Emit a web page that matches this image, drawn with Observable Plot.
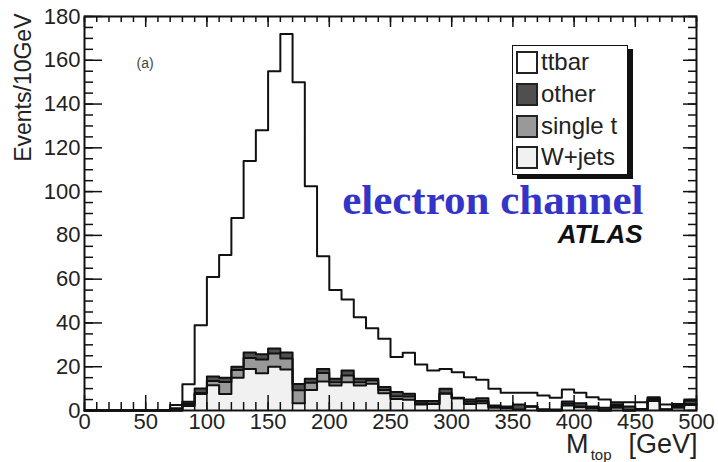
<!DOCTYPE html>
<html>
<head>
<meta charset="utf-8">
<script src="https://cdn.jsdelivr.net/npm/d3@7"></script>
<script src="https://cdn.jsdelivr.net/npm/@observablehq/plot@0.6"></script>
<style>
  body { margin: 0; background: #fff; }
  #chart { position: relative; width: 718px; height: 462px; font-family: "Liberation Sans", Arial, sans-serif; }
  #chart svg { position: absolute; left: 0; top: 0; }
  #legend { position: absolute; left: 512px; top: 45px; width: 114px; height: 128px;
            border: 1.5px solid #111; background: #fff; box-shadow: 5px 4px 0 #111; }
  .entry { position: absolute; left: 3px; height: 24px; display: flex; align-items: center;
           font-size: 24px; color: #222; white-space: nowrap; }
  .sw { width: 18px; height: 19px; border: 2px solid #222; margin-right: 3px; flex: none; }
</style>
</head>
<body>
<div id="chart"></div>
<script>
// Reconstructed top-quark mass, electron channel: events per 10 GeV bin.
// Bin lower edges (GeV)
const binLow = [0, 10, 20, 30, 40, 50, 60, 70, 80, 90,
  100, 110, 120, 130, 140, 150, 160, 170, 180, 190,
  200, 210, 220, 230, 240, 250, 260, 270, 280, 290,
  300, 310, 320, 330, 340, 350, 360, 370, 380, 390,
  400, 410, 420, 430, 440, 450, 460, 470, 480, 490];
const binWidth = 10;

// Stacked contributions, bottom to top
const wjets = [0, 0, 0, 0, 0, 0, 0, 0, 2, 7.5,
  11.5, 7.5, 15, 19, 17, 20, 18.7, 3.3, 9.4, 13.2,
  11.4, 12.9, 11.4, 12.2, 7.9, 5.3, 4.9, 2.7, 3, 7.6,
  5.6, 3, 3.3, 1.2, 1, 0.2, 1.8, 0, 0, 2.3,
  1.5, 0.9, 0, 1.2, 0, 0.3, 4.3, 0.3, 1.2, 2.5];
const singleTop = [0, 0, 0, 0, 0, 0, 0, 0, 1, 0.5,
  2, 5.5, 3.5, 5, 6.3, 6, 5, 6, 3.3, 3.9,
  1.5, 3.1, 1.5, 1.5, 1.5, 1.2, 1.5, 0.6, 0, 0.3,
  0, 1, 1, 0.5, 0.3, 0.2, 0, 0, 0, 0.8,
  0.3, 0.2, 0, 0.8, 0, 0, 0.5, 0, 0.8, 0.5];
const other = [0, 0, 0, 0, 0, 0, 0, 1, 1, 2,
  2, 2, 1.5, 2.5, 2.4, 2.3, 2.8, 2.8, 1.8, 1.9,
  1.6, 2.3, 1.6, 0.8, 1.3, 1.9, 1.2, 1, 1.3, 2,
  0.2, 1, 1.3, 0.6, 0.5, 2.3, 0, 0.6, 0.5, 1,
  1.5, 0.7, 1.2, 0.8, 1.8, 0.4, 0.5, 0.3, 0.7, 1.5];
const ttbar = [0, 0, 0, 0, 0, 0, 0, 1.5, 8, 29,
  45.5, 56, 68, 87.5, 102.3, 126.7, 145.5, 137.9, 88, 51.5,
  40.5, 32.4, 28.1, 23.1, 22.1, 16, 18.8, 16.7, 14, 9.1,
  11.7, 10.2, 8.4, 7.6, 6.3, 5.4, 6.3, 6.3, 5.3, 5.5,
  4.8, 4.3, 3.8, 1.0, 2, 3.1, 0.8, 2.1, 0.3, 0.5];

const seriesNames = ["W+jets", "single t", "other", "ttbar"];
const seriesValues = [wjets, singleTop, other, ttbar];
const seriesFills = ["#f1f1f1", "#999999", "#4f4f4f", "#ffffff"];
const legendOrder = ["ttbar", "other", "single t", "W+jets"];

// Axis ticks
const xMajor = [0, 50, 100, 150, 200, 250, 300, 350, 400, 450, 500];
const xMinor = d3.range(0, 501, 10);
const yMajor = [0, 20, 40, 60, 80, 100, 120, 140, 160, 180];
const yMinor = d3.range(0, 181, 5);

// Long-format rows; each series repeats its last bin at the upper edge so the step closes at 500
const rows = [];
seriesNames.forEach((name, s) => {
  const vals = seriesValues[s];
  binLow.forEach((x, i) => rows.push({x, series: name, value: vals[i]}));
  rows.push({x: binLow[binLow.length - 1] + binWidth, series: name, value: vals[vals.length - 1]});
});

const ink = "#111";
const labelInk = "#222";

const plot = Plot.plot({
  width: 718,
  height: 462,
  marginLeft: 84,
  marginRight: 22,
  marginTop: 16,
  marginBottom: 52,
  style: {fontFamily: "Liberation Sans, Arial, sans-serif", fontSize: "22px", background: "#fff"},
  x: {domain: [0, 500]},
  y: {domain: [0, 180]},
  color: {domain: seriesNames, range: seriesFills},
  marks: [
    Plot.areaY(rows, {x: "x", y: "value", z: "series", fill: "series", order: seriesNames, curve: "step-after"}),
    Plot.lineY(rows, Plot.stackY2({x: "x", y: "value", z: "series", order: seriesNames, curve: "step-after",
      stroke: ink, strokeWidth: 2})),

    // inward ticks on all four sides
    Plot.axisX({anchor: "bottom", ticks: xMinor, tickSize: -8, tickFormat: () => "", label: null, stroke: ink, strokeWidth: 1.5}),
    Plot.axisX({anchor: "bottom", ticks: xMajor, tickSize: -15, tickFormat: () => "", label: null, stroke: ink, strokeWidth: 1.5}),
    Plot.axisX({anchor: "top", ticks: xMinor, tickSize: -5, tickFormat: () => "", label: null, stroke: ink, strokeWidth: 1.5}),
    Plot.axisX({anchor: "top", ticks: xMajor, tickSize: -10, tickFormat: () => "", label: null, stroke: ink, strokeWidth: 1.5}),
    Plot.axisY({anchor: "left", ticks: yMinor, tickSize: -9, tickFormat: () => "", label: null, stroke: ink, strokeWidth: 1.5}),
    Plot.axisY({anchor: "left", ticks: yMajor, tickSize: -18, tickFormat: () => "", label: null, stroke: ink, strokeWidth: 1.5}),
    Plot.axisY({anchor: "right", ticks: yMinor, tickSize: -9, tickFormat: () => "", label: null, stroke: ink, strokeWidth: 1.5}),
    Plot.axisY({anchor: "right", ticks: yMajor, tickSize: -14, tickFormat: () => "", label: null, stroke: ink, strokeWidth: 1.5}),

    // tick labels
    Plot.axisX({anchor: "bottom", ticks: xMajor, tickSize: 0, tickPadding: 3, label: null, fill: labelInk, fontSize: 22}),
    Plot.axisY({anchor: "left", ticks: yMajor, tickSize: 0, tickPadding: 4, label: null, fill: labelInk, fontSize: 22}),

    Plot.frame({stroke: ink, strokeWidth: 2}),

    // axis titles
    Plot.text(["Events/10GeV"], {frameAnchor: "top-left", rotate: -90, textAnchor: "end", lineAnchor: "bottom",
      dx: -54, dy: -3, fontSize: 23, fill: labelInk}),
    Plot.text(["[GeV]"], {frameAnchor: "bottom-right", textAnchor: "end", lineAnchor: "bottom",
      dx: 1, dy: 42, fontSize: 27, fill: labelInk}),
    Plot.text(["top"], {frameAnchor: "bottom-right", textAnchor: "end", lineAnchor: "bottom",
      dx: -85, dy: 49, fontSize: 15, fill: labelInk}),
    Plot.text(["M"], {frameAnchor: "bottom-right", textAnchor: "end", lineAnchor: "bottom",
      dx: -108, dy: 42, fontSize: 27, fill: labelInk}),

    // annotations
    Plot.text(["(a)"], {frameAnchor: "top-left", dx: 52, dy: 42, fontSize: 14, fill: "#444"}),
    Plot.text(["electron channel"], {frameAnchor: "top-right", textAnchor: "end", lineAnchor: "bottom",
      dx: -53, dy: 197, fontFamily: "Liberation Serif, Times New Roman, serif", fontWeight: "bold",
      fontSize: 43, fill: "#3434c8"}),
    Plot.text(["ATLAS"], {frameAnchor: "top-right", textAnchor: "end", lineAnchor: "bottom",
      dx: -54, dy: 226, fontWeight: "bold", fontStyle: "italic", fontSize: 26, fill: ink})
  ]
});

const chart = document.getElementById("chart");
chart.appendChild(plot);

// Legend box inside the plot area
const legend = document.createElement("div");
legend.id = "legend";
const entryTops = [4, 36, 68, 99];
legendOrder.forEach((name, k) => {
  const e = document.createElement("div");
  e.className = "entry";
  e.style.top = entryTops[k] + "px";
  const sw = document.createElement("div");
  sw.className = "sw";
  sw.style.background = seriesFills[seriesNames.indexOf(name)];
  const label = document.createElement("span");
  label.textContent = name;
  e.appendChild(sw);
  e.appendChild(label);
  legend.appendChild(e);
});
chart.appendChild(legend);
</script>
</body>
</html>
